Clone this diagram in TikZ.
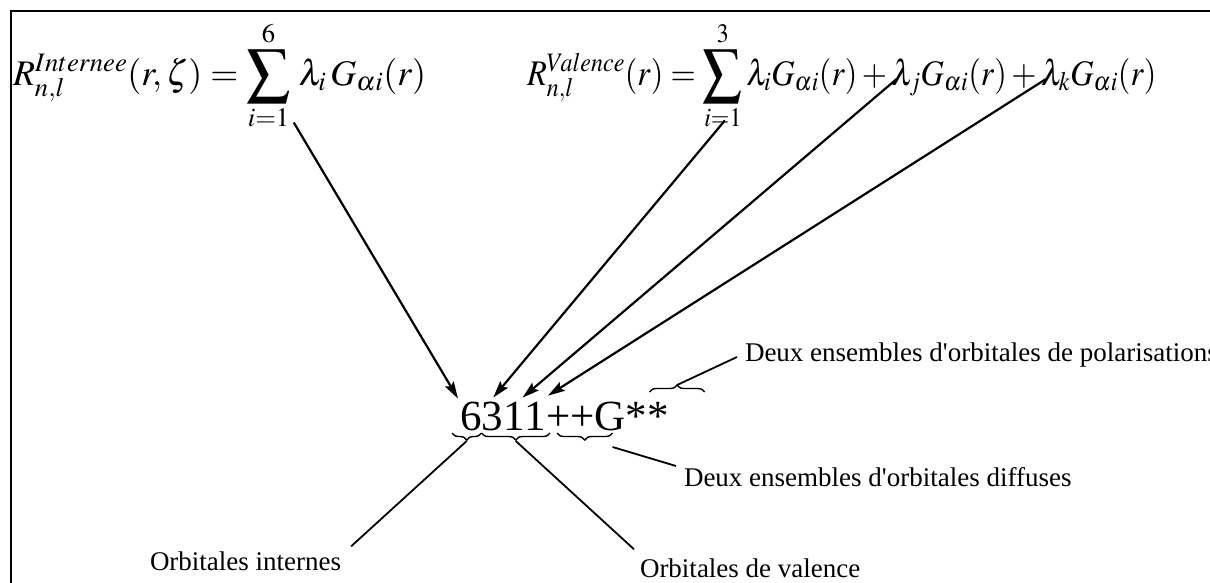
\documentclass[tikz,border=0pt]{standalone}
\usepackage{mathptmx}
\usepackage[no-math]{fontspec}
\usepackage{graphicx}
\newfontfamily\lblfont{Liberation Serif}
\usetikzlibrary{arrows.meta,decorations.pathreplacing,calc}
\newcommand{\bigsum}[2]{\mathop{\vcenter{\hbox{\scalebox{1.2}{$\displaystyle\sum$}}}}\limits_{#1}^{#2}}
\newcommand{\hsq}[1]{\scalebox{0.9}[1]{#1}}
\begin{document}
\begin{tikzpicture}[x=1pt,y=-1pt,
  every node/.style={inner sep=0pt, outer sep=0pt},
  frm/.style={font=\fontsize{36}{40}\selectfont},
  lbl/.style={font=\lblfont\fontsize{27}{30}\selectfont},
  big/.style={font=\lblfont\fontsize{43}{48}\selectfont},
  arr/.style={line width=2.2pt, -{Stealth[length=17pt,width=10pt,inset=3pt]}},
  con/.style={line width=1.8pt},
  ubrace/.style={line width=1.4pt, decorate, decoration={brace, amplitude=7pt, mirror}},
  obrace/.style={line width=1.4pt, decorate, decoration={brace, amplitude=7pt}}]
\clip (0,0) rectangle (1210,582);
\draw[line width=2.6pt] (11,11) rectangle (1260,640);

% formula 1
\node[frm, anchor=base west] (f1a) at (13,85) {$R^{Internee}_{n,l}(r,\zeta)={}$};
\node[frm, anchor=base west] (s1) at (f1a.base east) {$\displaystyle\bigsum{i=1}{6}$};
\node[frm, anchor=base west] (f1c) at (s1.base east) {$\;\lambda_i\,G_{\alpha i}(r)$};

% formula 2 (slightly condensed)
\node[frm, anchor=base west] (f2a) at (527,85) {\hsq{$R^{Valence}_{n,l}(r)={}$}};
\node[frm, anchor=base west] (s2) at (f2a.base east) {\hsq{$\displaystyle\bigsum{i=1}{3}$}};
\node[frm, anchor=base west] (f2c) at (s2.base east) {\hsq{$\,\lambda_i G_{\alpha i}(r)+{}$}};
\node[frm, anchor=base west] (lj) at (f2c.base east) {\hsq{$\lambda_j G_{\alpha i}(r)+{}$}};
\node[frm, anchor=base west] (lk) at (lj.base east) {\hsq{$\lambda_k G_{\alpha i}(r)$}};

% code
\node[big, anchor=base west] (c6) at (460,430) {6};
\node[big, anchor=base west] (c3) at (c6.base east) {3};
\node[big, anchor=base west] (c1a) at (c3.base east) {1};
\node[big, anchor=base west] (c1b) at (c1a.base east) {1};
\node[big, anchor=base west] (cpp) at (c1b.base east) {++};
\node[big, anchor=base west] (cG) at (cpp.base east) {G};
\node[big, anchor=base west] (cst) at (cG.base east) {**};

% labels
\node[lbl, anchor=base west] (oint) at (150,570) {Orbitales internes};
\node[lbl, anchor=base west] (oval) at (640,577) {Orbitales de valence};
\node[lbl, anchor=base west] (diff) at (684,486) {Deux ensembles d'orbitales diffuses};
\node[lbl, anchor=base west] (pol) at (745,361) {Deux ensembles d'orbitales de polarisations};

% braces
\coordinate (b6a) at ([shift={(-8,3)}]c6.base west);
\coordinate (b6b) at ([shift={(0,3)}]c6.base east);
\draw[ubrace] (b6a) -- (b6b);
\coordinate (t6) at ($(b6a)!0.5!(b6b)+(0,8)$);

\coordinate (b3a) at ([shift={(0,3)}]c3.base west);
\coordinate (b3b) at ([shift={(4,3)}]c1b.base east);
\draw[ubrace] (b3a) -- (b3b);
\coordinate (t3) at ($(b3a)!0.5!(b3b)+(0,8)$);

\coordinate (bpa) at ([shift={(11,3)}]cpp.base west);
\coordinate (bpb) at ([shift={(18,3)}]cG.base west);
\draw[ubrace] (bpa) -- (bpb);

\coordinate (boa) at ([shift={(24,-38)}]cst.base west);
\coordinate (bob) at ([shift={(79,-38)}]cst.base west);
\draw[obrace] (boa) -- (bob);
\coordinate (to) at ($(boa)!0.5!(bob)+(0,-7)$);

% arrows
\coordinate (a1s) at ([shift={(3,-8)}]s1.south east);
\coordinate (a2s) at ([shift={(2,-10)}]s2.south);
\coordinate (a3s) at ([shift={(5,-6)}]lj.base west);
\coordinate (a4s) at ([shift={(5,-6)}]lk.base west);
\coordinate (a1e) at ([shift={(-2,-3)}]c6.north west);
\coordinate (a2e) at ([shift={(1,-4)}]c3.north);
\coordinate (a3e) at ([shift={(-2,-4)}]c1a.north east);
\coordinate (a4e) at ([shift={(2,-6)}]c1b.north east);
\draw[arr] (a1s) -- (a1e);
\draw[arr] (a2s) -- (a2e);
\draw[arr] (a3s) -- (a3e);
\draw[arr] (a4s) -- (a4e);

% connectors
\draw[con] (t6) -- ([shift={(10,-5)}]oint.north east);
\draw[con] (t3) -- ([shift={(-6,-9)}]oval.north west);
\draw[con] ([shift={(-13,17)}]cG.base east) -- ([shift={(-8,-1)}]diff.north west);
\draw[con] (to) -- ([shift={(-8,-4)}]pol.base west);
\end{tikzpicture}
\end{document}
